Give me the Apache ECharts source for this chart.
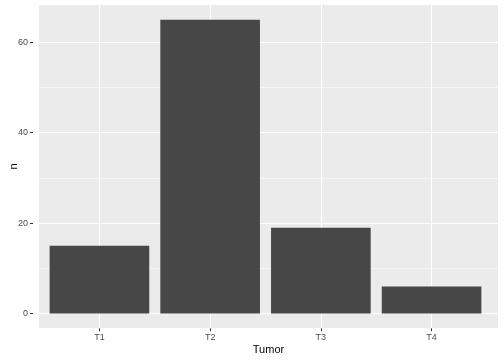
<!DOCTYPE html>
<html>
<head>
<meta charset="utf-8">
<script src="https://cdn.jsdelivr.net/npm/echarts@6/dist/echarts.min.js"></script>
<style>html,body{margin:0;padding:0;background:#fff}#c{width:504px;height:360px}</style>
</head>
<body>
<div id="c"></div>
<script>
const categories = ['T1', 'T2', 'T3', 'T4'];
const counts = [15, 65, 19, 6];
const yTicks = [0, 20, 40, 60];

// layout (ggplot-like panel)
const pL = 33, pR = 498, pT = 5, pB = 328.3;
const nCat = categories.length;
const xUnit = (pR - pL) / (nCat - 1 + 1.2);       // discrete expansion 0.6
const yMaxD = Math.max(...counts);
const yLo = -0.05 * yMaxD, yHi = yMaxD * 1.05;
const yUnit = (pB - pT) / (yHi - yLo);
const y0 = pB + yLo * yUnit;          // pixel of value 0
const yMaxTop = y0 / yUnit;           // value at pixel y = 0
const yBotM10 = y0 + 10 * yUnit;

const font = 'Liberation Sans, Arial, sans-serif';
const hidden = { show: false };

const chart = echarts.init(document.getElementById('c'), null, { renderer: 'canvas' });
chart.setOption({
  animation: false,
  backgroundColor: '#ffffff',
  grid: [
    // 0: panel background + axis titles
    { left: pL, top: pT, width: pR - pL, height: pB - pT, show: true, backgroundColor: '#EBEBEB', borderWidth: 0, z: -1 },
    // 1: vertical grid lines + x labels (category points at centers)
    { left: pL + 0.6 * xUnit, top: pT, width: (nCat - 1) * xUnit, height: pB - pT },
    // 2: major y lines + labels
    { left: pL, top: 0, width: pR - pL, height: y0 },
    // 3: minor y lines
    { left: pL, top: 0, width: pR - pL, height: yBotM10 },
    // 4: bars
    { left: pL + 0.1 * xUnit, top: 0, width: nCat * xUnit, height: y0 }
  ],
  xAxis: [
    { gridIndex: 0, type: 'value', min: 0, max: 1, axisLine: hidden, axisTick: hidden, axisLabel: hidden, splitLine: hidden,
      name: 'Tumor', nameLocation: 'middle', nameGap: 16,
      nameTextStyle: { fontFamily: font, fontSize: 11, color: '#000000' } },
    { gridIndex: 1, type: 'category', data: categories, boundaryGap: false, z: 1,
      axisLine: hidden,
      axisTick: { show: true, length: 3, lineStyle: { color: '#333333', width: 1 } },
      axisLabel: { show: true, margin: 5, fontFamily: font, fontSize: 9, color: '#4D4D4D' },
      splitLine: { show: true, lineStyle: { color: '#ffffff', width: 1.1 } } },
    { gridIndex: 2, type: 'value', show: false },
    { gridIndex: 3, type: 'value', show: false },
    { gridIndex: 4, type: 'category', data: categories, show: false }
  ],
  yAxis: [
    { gridIndex: 0, type: 'value', min: 0, max: 1, axisLine: hidden, axisTick: hidden, axisLabel: hidden, splitLine: hidden,
      name: 'n', nameLocation: 'middle', nameGap: 20, nameRotate: 90,
      nameTextStyle: { fontFamily: font, fontSize: 11, color: '#000000' } },
    { gridIndex: 1, type: 'value', show: false },
    { gridIndex: 2, type: 'value', min: 0, max: yMaxTop, interval: 20, z: 1,
      axisLine: hidden,
      axisTick: { show: true, length: 3, lineStyle: { color: '#333333', width: 1 } },
      axisLabel: { show: true, margin: 5, fontFamily: font, fontSize: 9, color: '#4D4D4D',
        showMaxLabel: false, formatter: v => yTicks.includes(v) ? String(v) : '' },
      splitLine: { show: true, lineStyle: { color: '#ffffff', width: 1.1 } } },
    { gridIndex: 3, type: 'value', min: -10, max: yMaxTop, interval: 20, z: 1,
      axisLine: hidden, axisTick: hidden, axisLabel: hidden,
      splitLine: { show: true, lineStyle: { color: '#ffffff', width: 0.55 } } },
    { gridIndex: 4, type: 'value', min: 0, max: yMaxTop, show: false }
  ],
  series: [{
    type: 'bar',
    xAxisIndex: 4, yAxisIndex: 4,
    data: counts,
    barWidth: '90%',
    itemStyle: { color: '#474747' },
    z: 3
  }]
});
</script>
</body>
</html>
